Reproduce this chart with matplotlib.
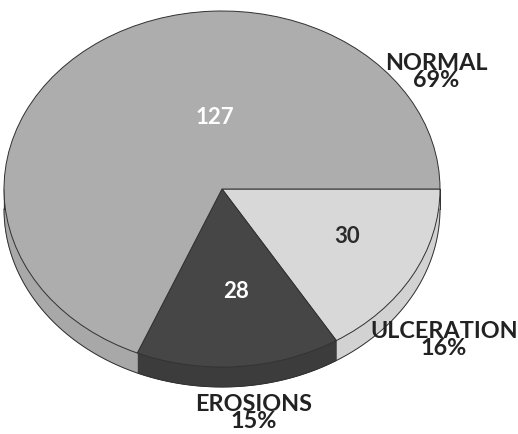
import numpy as np
import matplotlib
matplotlib.use("Agg")
import matplotlib.pyplot as plt
from matplotlib.patches import Polygon

# ---- data ----
categories = ["ULCERATION", "EROSIONS", "NORMAL"]
counts = [30, 28, 127]
percent_labels = ["16%", "15%", "69%"]

top_colors = ["#d8d8d8", "#464646", "#adadad"]
side_colors = ["#d2d2d2", "#3c3c3c", "#a8a8a8"]
count_text_colors = ["#2b2b2b", "white", "white"]

W, H = 518, 434
fig = plt.figure(figsize=(W / 100, H / 100), dpi=100)
ax = fig.add_axes([0, 0, 1, 1])

# pixel geometry of the ellipse (center, radii) -> data limits
cx, cy, rx, ry = 222, 189, 218, 178
depth = 20 / ry
edge = "#303030"

wedges, _ = ax.pie(counts, colors=top_colors, startangle=0, counterclock=False,
                   radius=1.0, center=(0, 0),
                   wedgeprops=dict(edgecolor=edge, linewidth=0.7))
for w in wedges:
    w.set_zorder(3)

ax.set_aspect("auto")
ax.set_xlim((0 - cx) / rx, (W - cx) / rx)
ax.set_ylim((cy - H) / ry, (cy - 0) / ry)
ax.axis("off")

# side band (front half only)
for w, sc in zip(wedges, side_colors):
    t1, t2 = w.theta1 % 360, w.theta2 % 360
    if t2 <= t1:
        t2 += 360
    segs = []
    for off in (0, 360, -360):
        a, b = max(t1, 180 + off), min(t2, 360 + off)
        if b > a:
            segs.append((a, b))
    for a, b in segs:
        t = np.radians(np.linspace(a, b, 100))
        xs, ys = np.cos(t), np.sin(t)
        pts = np.concatenate([np.column_stack([xs, ys]),
                              np.column_stack([xs[::-1], ys[::-1] - depth])])
        ax.add_patch(Polygon(pts, closed=True, facecolor=sc, edgecolor=sc,
                             linewidth=0.5, zorder=1))

# bottom outline of side
t = np.radians(np.linspace(180, 360, 300))
ax.plot(np.cos(t), np.sin(t) - depth, color=edge, lw=0.7, zorder=2)
ax.plot([-1, -1], [0, -depth], color=edge, lw=0.7, zorder=2)
ax.plot([1, 1], [0, -depth], color=edge, lw=0.7, zorder=2)

def px(x, y):
    return ((x - cx) / rx, (cy - y) / ry)

font = "Lato"
# counts inside slices
count_pos = [(347, 236), (236, 291), (215, 118)]
for c, (x, y), col in zip(counts, count_pos, count_text_colors):
    ax.text(*px(x, y), str(c), ha="center", va="center", color=col,
            fontsize=16, fontweight="bold", family=font, zorder=5)

# category labels
label_pos = [(444, 340), (254, 413), (436, 72)]
for cat, pct, (x, y) in zip(categories, percent_labels, label_pos):
    ax.text(*px(x, y), f"{cat}\n{pct}", ha="center", va="center", color="#222222",
            fontsize=16.8, fontweight="bold", family=font, linespacing=0.8, zorder=6)

fig.savefig("out.png", dpi=100, facecolor="white")
